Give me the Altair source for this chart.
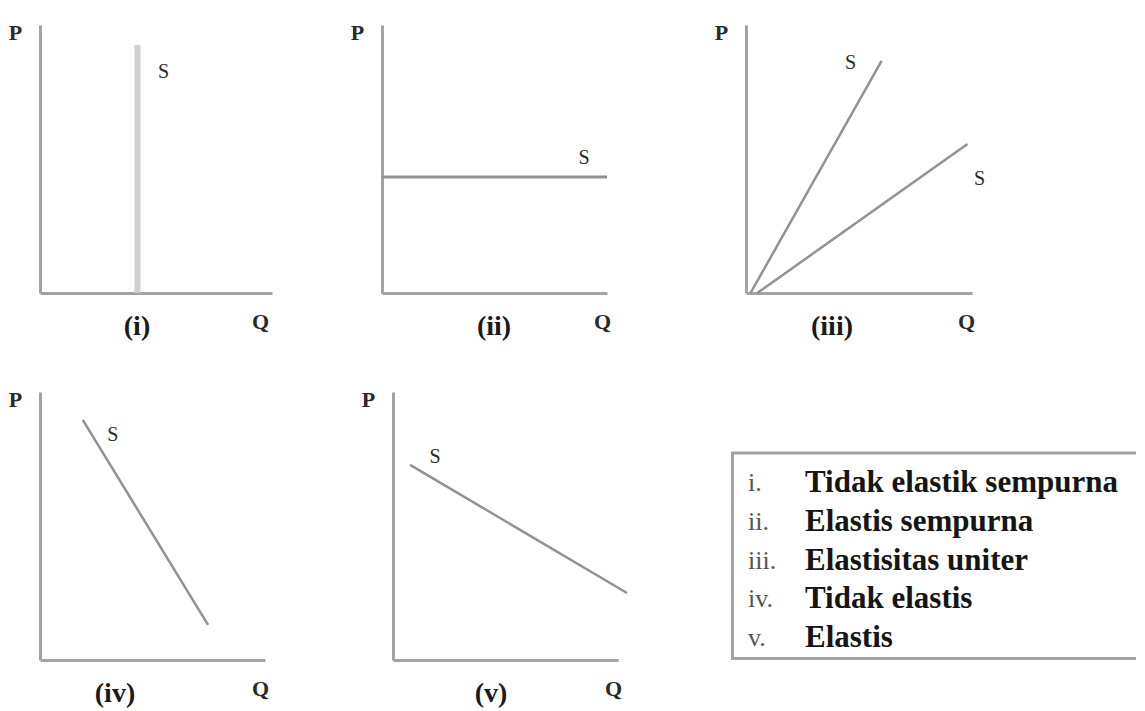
import altair as alt
import pandas as pd

# ---------------- data ----------------
# Panel (i): perfectly inelastic supply (vertical)
q_i = [4.2, 4.2]
p_i = [0.0, 9.25]
# Panel (ii): perfectly elastic supply (horizontal)
q_ii = [0.0, 10.0]
p_ii = [4.33, 4.33]
# Panel (iii): unit elastic, two rays from the origin
q_iii_a = [0.2, 6.0]
p_iii_a = [0.0, 8.66]
q_iii_b = [0.5, 9.8]
p_iii_b = [0.0, 5.56]
# Panel (iv): inelastic
q_iv = [1.9, 7.47]
p_iv = [8.96, 1.31]
# Panel (v): elastic
q_v = [0.76, 10.4]
p_v = [7.28, 2.5]

panel_labels = ["(i)", "(ii)", "(iii)", "(iv)", "(v)"]
legend_numerals = ["i.", "ii.", "iii.", "iv.", "v."]
legend_texts = [
    "Tidak elastik sempurna",
    "Elastis sempurna",
    "Elastisitas uniter",
    "Tidak elastis",
    "Elastis",
]

# ---------------- styling ----------------
FONT = "Liberation Serif"
AXIS_GRAY = "#a3a3a3"
LINE_GRAY = "#929292"
TEXT = "#2a2a2a"
H = 268

xs = alt.Scale(domain=[0, 10], nice=False, zero=False)
ys = alt.Scale(domain=[0, 10], nice=False, zero=False)


def ax(title, **kw):
    return alt.Axis(
        title=title, domain=True, domainColor=AXIS_GRAY, domainWidth=3,
        ticks=False, labels=False, grid=False, titleAngle=0, titleFont=FONT,
        titleFontSize=22, titleFontWeight="bold", titleColor=TEXT,
        titleAlign="center", titleBaseline="middle", **kw)


x_ax = ax("Q", titleX=220, titleY=28)
y_ax = ax("P", titleX=-25, titleY=7)


def panel(lines, label, w, title_dx):
    layers = []
    for (q, p, end, color, sw, sdx, sdy) in lines:
        df = pd.DataFrame({"Q": q, "P": p,
                           "S": ["S" if k == end else "" for k in range(len(q))]})
        base = alt.Chart(df).encode(
            x=alt.X("Q:Q", scale=xs, axis=x_ax),
            y=alt.Y("P:Q", scale=ys, axis=y_ax))
        layers.append(base.mark_line(color=color, strokeWidth=sw))
        layers.append(
            base.transform_filter("datum.S != ''")
            .mark_text(font=FONT, fontSize=20, color=TEXT, dx=sdx, dy=sdy,
                       align="center", baseline="middle")
            .encode(text="S:N"))
    return alt.layer(*layers).properties(
        width=w, height=H,
        title=alt.TitleParams(text=label, orient="bottom", anchor="start",
                              frame="group", align="center", dx=title_dx,
                              dy=-19, offset=0, font=FONT, fontSize=28,
                              fontWeight="bold", color="#1a1a1a"))


p1 = panel([(q_i, p_i, 1, "#d0d0d0", 6, 26, 27)], panel_labels[0], 232, 97)
p2 = panel([(q_ii, p_ii, 1, LINE_GRAY, 3, -23, -19)], panel_labels[1], 225, 112)
p3 = panel([(q_iii_a, p_iii_a, 1, LINE_GRAY, 2.5, -31, 2),
            (q_iii_b, p_iii_b, 1, LINE_GRAY, 2.5, 12, 35)], panel_labels[2], 226, 86)
p4 = panel([(q_iv, p_iv, 0, LINE_GRAY, 2.5, 30, 15)], panel_labels[3], 225, 75)
p5 = panel([(q_v, p_v, 0, LINE_GRAY, 2.5, 25, -8)], panel_labels[4], 225, 98)

# ---------------- legend box ----------------
LW = 405
legend_df = pd.DataFrame({"row": list(range(len(legend_numerals))),
                          "num": legend_numerals, "desc": legend_texts})
frame = alt.Chart(pd.DataFrame({"k": [0]})).mark_rect(
    filled=False, stroke=AXIS_GRAY, strokeWidth=3, clip=True
).encode(x=alt.value(1.5), x2=alt.value(LW + 20), y=alt.value(61), y2=alt.value(H - 1.5))
lbase = alt.Chart(legend_df).encode(
    y=alt.Y("row:O", scale=alt.Scale(type="point", range=[91, 246], padding=0), axis=None))
nums = lbase.mark_text(font=FONT, fontSize=26, color="#555555", align="left",
                       baseline="middle").encode(x=alt.value(17), text="num:N")
descs = lbase.mark_text(font=FONT, fontSize=31, fontWeight="bold", color="#151515",
                        align="left", baseline="middle").encode(x=alt.value(74), text="desc:N")
legend = alt.layer(frame, nums, descs).properties(width=LW, height=H)

top = alt.hconcat(p1, alt.hconcat(p2, p3, spacing=139, bounds="flush"),
                  spacing=110, bounds="flush")
bottom = alt.hconcat(p4, alt.hconcat(p5, legend, spacing=113, bounds="flush"),
                     spacing=128, bounds="flush")
chart = alt.vconcat(top, bottom, spacing=47).properties(
    padding={"left": 0, "top": 13, "right": 0, "bottom": 0}
).configure(background="white").configure_view(stroke=None)

chart.save("out.html", embed_options={"renderer": "svg", "actions": False})
